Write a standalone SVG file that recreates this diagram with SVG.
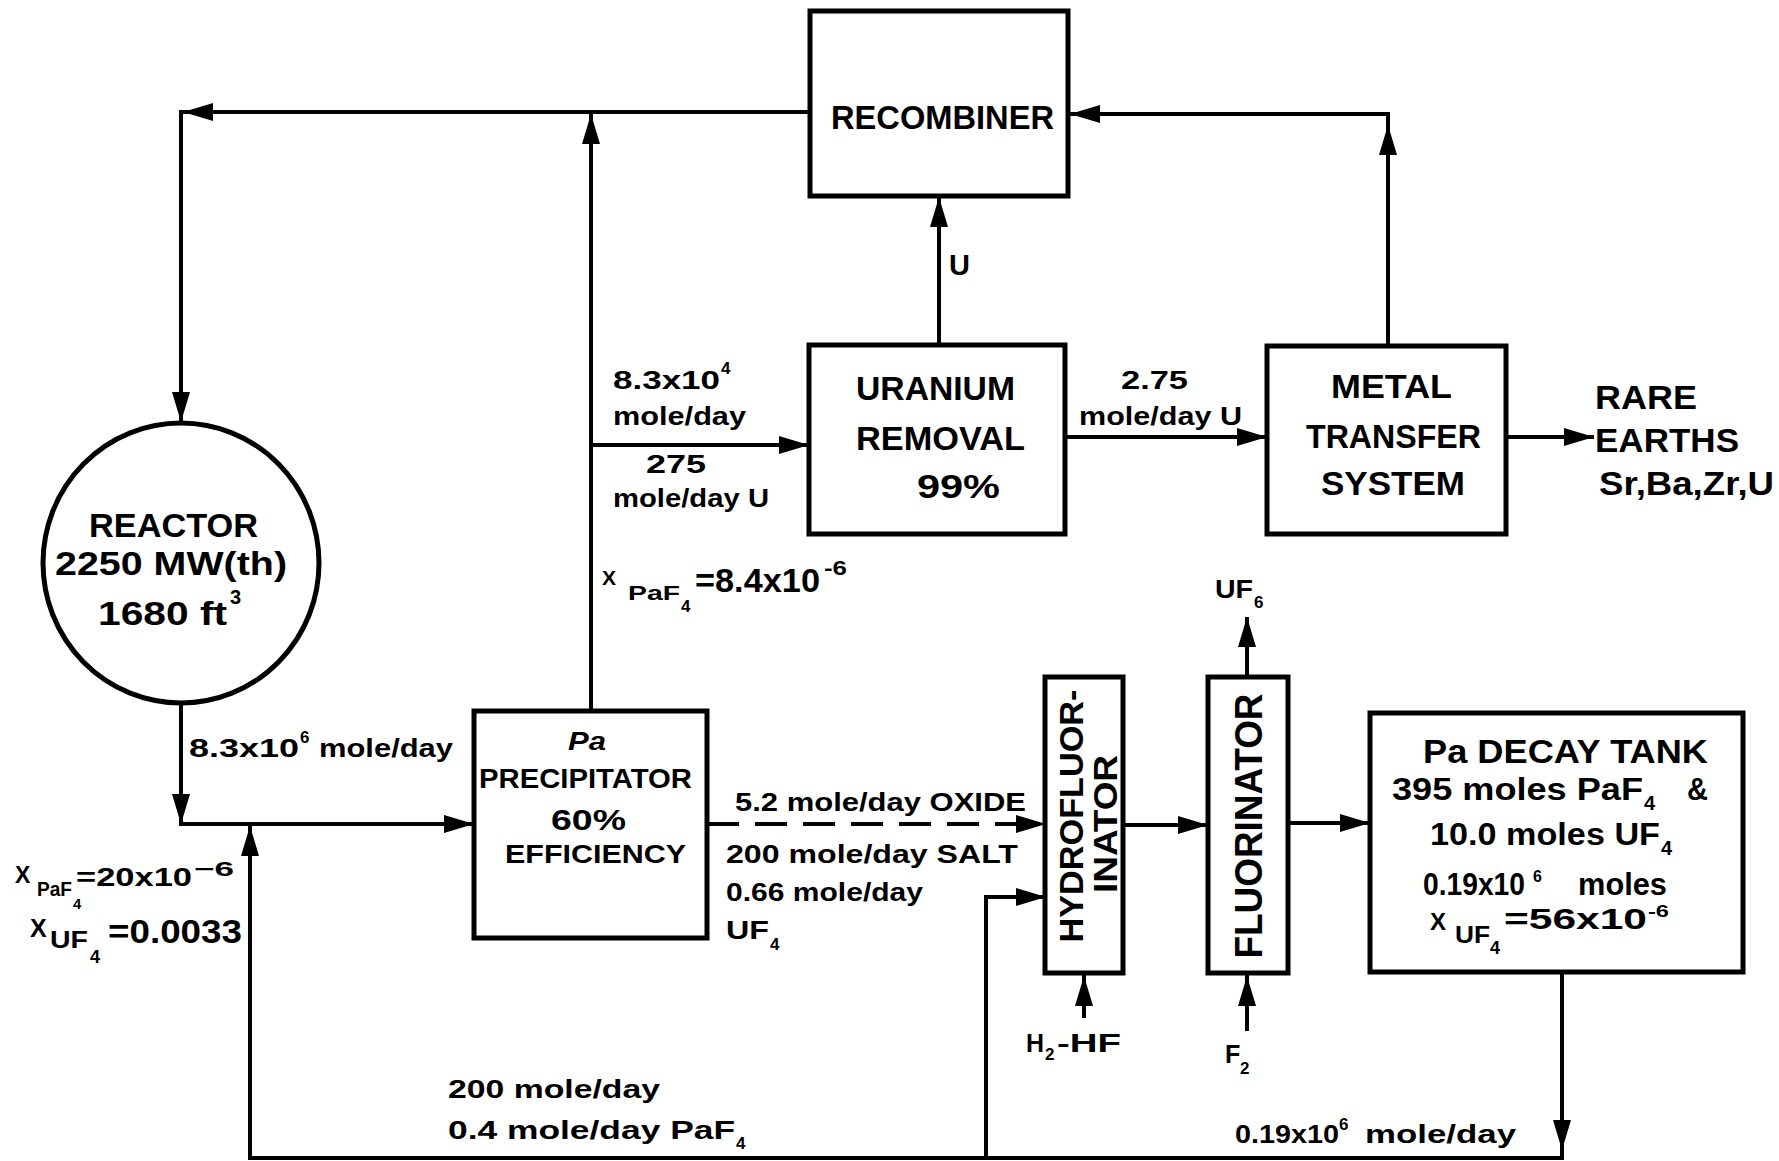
<svg xmlns="http://www.w3.org/2000/svg" xmlns:xlink="http://www.w3.org/1999/xlink" width="1779" height="1161" viewBox="0 0 1779 1161">
<style>
text{font-family:"Liberation Sans",Arial,sans-serif;font-weight:bold;fill:#000}
.lg{font-size:33px}
.md{font-size:25px}
.sm{font-size:17px}
.box{fill:none;stroke:#000;stroke-width:5}
.ln{fill:none;stroke:#000;stroke-width:4}
.dash{fill:none;stroke:#000;stroke-width:4;stroke-dasharray:32 16}
</style>
<defs>
<path id="ah" d="M0,0 L-30,-9 L-30,9 Z" fill="#000"/>
</defs>
<rect width="1779" height="1161" fill="#fff"/>

<g id="connectors">
<path class="ln" d="M810,112 H181 V422"/>
<path class="ln" d="M591,711 V112"/>
<path class="ln" d="M591,445 H809"/>
<path class="ln" d="M939,345 V196"/>
<path class="ln" d="M1065,437 H1267"/>
<path class="ln" d="M1506,437 H1594"/>
<path class="ln" d="M1388,346 V114 H1070"/>
<path class="ln" d="M181,702 V824 H474"/>
<path class="ln" d="M1562,972 V1158 H250 V826"/>
<path class="ln" d="M986,1158 V897 H1046"/>
<path class="dash" d="M707,824 H1046"/>
<path class="ln" d="M1123,825 H1208"/>
<path class="ln" d="M1247,677 V617"/>
<path class="ln" d="M1084,1018 V973"/>
<path class="ln" d="M1247,1031 V973"/>
<path class="ln" d="M1288,823 H1370"/>
<use xlink:href="#ah" transform="translate(183,112) rotate(180)"/>
<use xlink:href="#ah" transform="translate(181,422) rotate(90)"/>
<use xlink:href="#ah" transform="translate(591,114) rotate(-90)"/>
<use xlink:href="#ah" transform="translate(809,445)"/>
<use xlink:href="#ah" transform="translate(939,197) rotate(-90)"/>
<use xlink:href="#ah" transform="translate(1267,437)"/>
<use xlink:href="#ah" transform="translate(1594,437)"/>
<use xlink:href="#ah" transform="translate(1388,125) rotate(-90)"/>
<use xlink:href="#ah" transform="translate(1070,114) rotate(180)"/>
<use xlink:href="#ah" transform="translate(181,824) rotate(90)"/>
<use xlink:href="#ah" transform="translate(474,824)"/>
<use xlink:href="#ah" transform="translate(250,826) rotate(-90)"/>
<use xlink:href="#ah" transform="translate(1046,824)"/>
<use xlink:href="#ah" transform="translate(1046,897)"/>
<use xlink:href="#ah" transform="translate(1084,976) rotate(-90)"/>
<use xlink:href="#ah" transform="translate(1208,825)"/>
<use xlink:href="#ah" transform="translate(1247,617) rotate(-90)"/>
<use xlink:href="#ah" transform="translate(1247,976) rotate(-90)"/>
<use xlink:href="#ah" transform="translate(1370,823)"/>
<use xlink:href="#ah" transform="translate(1562,1150) rotate(90)"/>
</g>

<g id="labels">
<text class="md" x="613" y="389" textLength="107" lengthAdjust="spacingAndGlyphs">8.3x10</text>
<text class="sm" x="721" y="374">4</text>
<text class="md" x="613" y="425" textLength="133" lengthAdjust="spacingAndGlyphs">mole/day</text>
<text class="md" x="646" y="473" textLength="60" lengthAdjust="spacingAndGlyphs">275</text>
<text class="md" x="613" y="507" textLength="156" lengthAdjust="spacingAndGlyphs">mole/day U</text>
<text class="lg" x="949" y="275" style="font-size:29px">U</text>
<text class="md" x="1121" y="389" textLength="67" lengthAdjust="spacingAndGlyphs">2.75</text>
<text class="md" x="1079" y="425" textLength="163" lengthAdjust="spacingAndGlyphs">mole/day U</text>
<text class="lg" x="1595" y="409" textLength="102" lengthAdjust="spacingAndGlyphs">RARE</text>
<text class="lg" x="1595" y="452" textLength="144" lengthAdjust="spacingAndGlyphs">EARTHS</text>
<text class="lg" x="1599" y="495" textLength="175" lengthAdjust="spacingAndGlyphs">Sr,Ba,Zr,U</text>
<text class="md" x="602" y="585" style="font-size:21px">X</text>
<text class="md" x="628" y="600" textLength="52" lengthAdjust="spacingAndGlyphs" style="font-size:21px">PaF</text>
<text class="sm" x="681" y="612">4</text>
<text class="md" x="695" y="592" textLength="125" lengthAdjust="spacingAndGlyphs" style="font-size:33px">=8.4x10</text>
<text class="sm" x="824" y="575" textLength="23" lengthAdjust="spacingAndGlyphs" style="font-size:20px">-6</text>
<text class="md" x="189" y="757" textLength="110" lengthAdjust="spacingAndGlyphs">8.3x10</text>
<text class="sm" x="300" y="743">6</text>
<text class="md" x="319" y="757" textLength="134" lengthAdjust="spacingAndGlyphs">mole/day</text>
<text class="md" x="15" y="883" style="font-size:23px">X</text>
<text class="md" x="37" y="896" textLength="35" lengthAdjust="spacingAndGlyphs" style="font-size:21px">PaF</text>
<text class="sm" x="73" y="909" style="font-size:15px">4</text>
<text class="md" x="76" y="886" textLength="116" lengthAdjust="spacingAndGlyphs" style="font-size:26px">=20x10</text>
<text class="sm" x="194" y="876" textLength="40" lengthAdjust="spacingAndGlyphs" style="font-size:20px">−6</text>
<text class="md" x="30" y="937" style="font-size:25px">X</text>
<text class="md" x="50" y="948" textLength="38" lengthAdjust="spacingAndGlyphs" style="font-size:24px">UF</text>
<text class="sm" x="90" y="963" style="font-size:18px">4</text>
<text class="md" x="108" y="943" textLength="134" lengthAdjust="spacingAndGlyphs" style="font-size:34px">=0.0033</text>
<text class="md" x="735" y="811" textLength="291" lengthAdjust="spacingAndGlyphs">5.2 mole/day OXIDE</text>
<text class="md" x="726" y="863" textLength="292" lengthAdjust="spacingAndGlyphs">200 mole/day SALT</text>
<text class="md" x="726" y="901" textLength="197" lengthAdjust="spacingAndGlyphs">0.66 mole/day</text>
<text class="md" x="726" y="939" textLength="43" lengthAdjust="spacingAndGlyphs">UF</text>
<text class="sm" x="770" y="950">4</text>
<text class="md" x="448" y="1098" textLength="212" lengthAdjust="spacingAndGlyphs">200 mole/day</text>
<text class="md" x="448" y="1139" textLength="287" lengthAdjust="spacingAndGlyphs">0.4 mole/day PaF</text>
<text class="sm" x="736" y="1149">4</text>
<text class="md" x="1215" y="598" textLength="38" lengthAdjust="spacingAndGlyphs">UF</text>
<text class="sm" x="1254" y="608">6</text>
<text class="md" x="1026" y="1052">H</text>
<text class="sm" x="1045" y="1060">2</text>
<text class="md" x="1057" y="1052" textLength="64" lengthAdjust="spacingAndGlyphs">-HF</text>
<text class="md" x="1225" y="1063">F</text>
<text class="sm" x="1240" y="1074">2</text>
<text class="md" x="1235" y="1143" textLength="104" lengthAdjust="spacingAndGlyphs">0.19x10</text>
<text class="sm" x="1339" y="1130">6</text>
<text class="md" x="1365" y="1143" textLength="151" lengthAdjust="spacingAndGlyphs">mole/day</text>
</g>

<g id="recombiner">
<rect class="box" x="810" y="11" width="258" height="185"/>
<text class="lg" x="831" y="129" textLength="223" lengthAdjust="spacingAndGlyphs">RECOMBINER</text>
</g>

<g id="uranium-removal">
<rect class="box" x="809" y="345" width="256" height="189"/>
<text class="lg" x="856" y="400" textLength="159" lengthAdjust="spacingAndGlyphs">URANIUM</text>
<text class="lg" x="856" y="450" textLength="169" lengthAdjust="spacingAndGlyphs">REMOVAL</text>
<text class="lg" x="917" y="498" textLength="83" lengthAdjust="spacingAndGlyphs">99%</text>
</g>

<g id="metal-transfer">
<rect class="box" x="1267" y="346" width="239" height="188"/>
<text class="lg" x="1331" y="398" textLength="121" lengthAdjust="spacingAndGlyphs">METAL</text>
<text class="lg" x="1306" y="448" textLength="175" lengthAdjust="spacingAndGlyphs">TRANSFER</text>
<text class="lg" x="1321" y="495" textLength="144" lengthAdjust="spacingAndGlyphs">SYSTEM</text>
</g>

<g id="reactor">
<ellipse class="box" cx="181" cy="563" rx="138" ry="140"/>
<text class="lg" x="89" y="537" textLength="169" lengthAdjust="spacingAndGlyphs">REACTOR</text>
<text class="lg" x="55" y="575" textLength="232" lengthAdjust="spacingAndGlyphs">2250 MW(th)</text>
<text class="lg" x="98" y="625" textLength="129" lengthAdjust="spacingAndGlyphs">1680 ft</text>
<text class="sm" x="230" y="604" style="font-size:20px">3</text>
</g>

<g id="pa-precipitator">
<rect class="box" x="474" y="711" width="233" height="227"/>
<text class="md" x="568" y="750" textLength="38" lengthAdjust="spacingAndGlyphs" style="font-style:italic">Pa</text>
<text class="md" x="479" y="788" textLength="213" lengthAdjust="spacingAndGlyphs" style="font-size:27px">PRECIPITATOR</text>
<text class="md" x="551" y="830" textLength="75" lengthAdjust="spacingAndGlyphs" style="font-size:29px">60%</text>
<text class="md" x="505" y="863" textLength="181" lengthAdjust="spacingAndGlyphs" style="font-size:26px">EFFICIENCY</text>
</g>

<g id="hydrofluorinator">
<rect class="box" x="1045" y="677" width="78" height="296"/>
<text class="lg" transform="translate(1083,816) rotate(-90)" text-anchor="middle" textLength="253" lengthAdjust="spacingAndGlyphs" style="font-size:33px">HYDROFLUOR-</text>
<text class="lg" transform="translate(1117,824) rotate(-90)" text-anchor="middle" textLength="138" lengthAdjust="spacingAndGlyphs" style="font-size:33px">INATOR</text>
</g>

<g id="fluorinator">
<rect class="box" x="1208" y="677" width="80" height="296"/>
<text class="lg" transform="translate(1262,826) rotate(-90)" text-anchor="middle" textLength="265" lengthAdjust="spacingAndGlyphs" style="font-size:38px">FLUORINATOR</text>
</g>

<g id="pa-decay-tank">
<rect class="box" x="1370" y="713" width="373" height="259"/>
<text class="md" x="1423" y="763" textLength="285" lengthAdjust="spacingAndGlyphs" style="font-size:34px">Pa DECAY  TANK</text>
<text class="md" x="1392" y="800" textLength="251" lengthAdjust="spacingAndGlyphs" style="font-size:31px">395 moles PaF</text>
<text class="sm" x="1644" y="810" style="font-size:20px">4</text>
<text class="md" x="1687" y="800" textLength="21" lengthAdjust="spacingAndGlyphs" style="font-size:31px">&amp;</text>
<text class="md" x="1430" y="845" textLength="230" lengthAdjust="spacingAndGlyphs" style="font-size:32px">10.0 moles UF</text>
<text class="sm" x="1661" y="855" style="font-size:20px">4</text>
<text class="md" x="1423" y="895" textLength="102" lengthAdjust="spacingAndGlyphs" style="font-size:32px">0.19x10</text>
<text class="sm" x="1533" y="882" style="font-size:16px">6</text>
<text class="md" x="1578" y="895" textLength="89" lengthAdjust="spacingAndGlyphs" style="font-size:32px">moles</text>
<text class="md" x="1430" y="930" style="font-size:24px">X</text>
<text class="md" x="1455" y="943" textLength="35" lengthAdjust="spacingAndGlyphs" style="font-size:24px">UF</text>
<text class="sm" x="1490" y="954" style="font-size:18px">4</text>
<text class="md" x="1504" y="929" textLength="143" lengthAdjust="spacingAndGlyphs" style="font-size:29px">=56x10</text>
<text class="sm" x="1648" y="917" textLength="21" lengthAdjust="spacingAndGlyphs" style="font-size:16px">-6</text>
</g>
</svg>
